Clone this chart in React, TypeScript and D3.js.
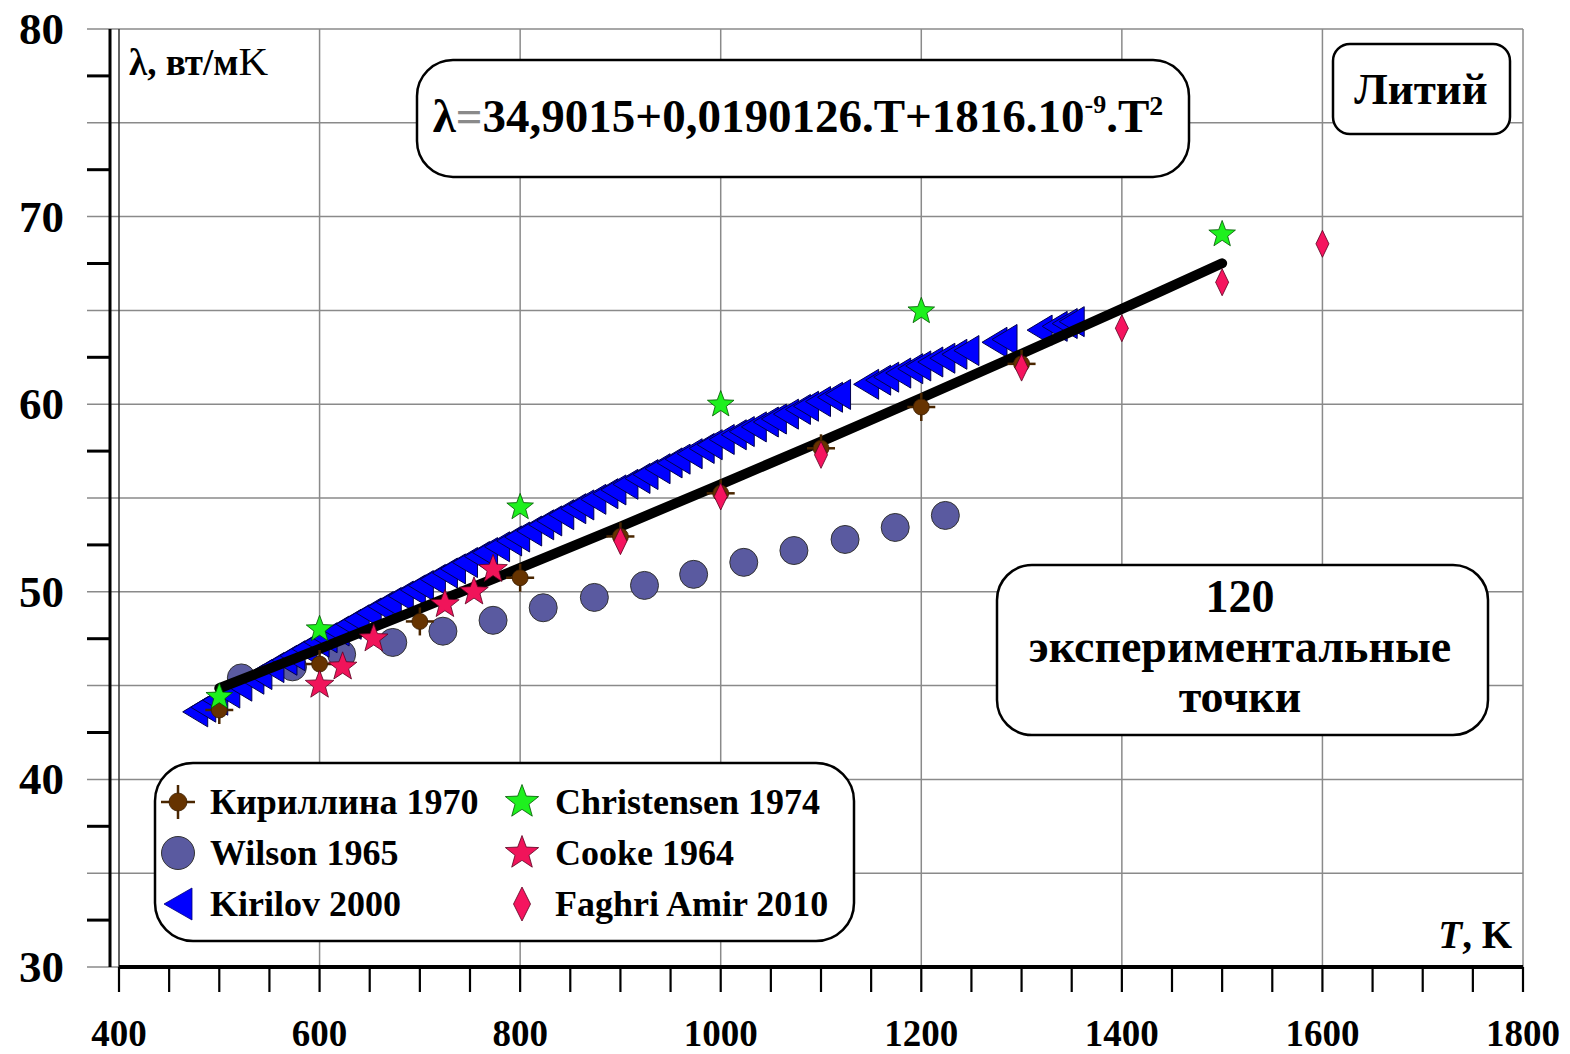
import React from 'react';
import * as d3 from 'd3';

const W = 1570;
const H = 1054;
const FONT = "'Liberation Serif', 'Times New Roman', serif";

// axis ticks
const xLabels = [400, 600, 800, 1000, 1200, 1400, 1600, 1800];
const xMinor = d3.range(400, 1801, 50);
const yLabels = [30, 40, 50, 60, 70, 80];
const yGrid = [30, 35, 40, 45, 50, 55, 60, 65, 70, 75, 80];
const yMinor = [32.5, 37.5, 42.5, 47.5, 52.5, 57.5, 62.5, 67.5, 72.5, 77.5];

// series: [T, lambda]
const kirillina: [number, number][] = [
  [500, 43.7], [600, 46.15], [700, 48.42], [800, 50.75], [900, 52.95],
  [1000, 55.25], [1100, 57.65], [1200, 59.85], [1300, 62.15],
];
const wilson: [number, number][] = [
  [522, 45.41], [573, 46.0], [622, 46.67], [673, 47.3], [723, 47.9],
  [773, 48.48], [823, 49.15], [874, 49.7], [924, 50.34], [973, 50.93],
  [1023, 51.57], [1073, 52.2], [1124, 52.79], [1174, 53.43], [1224, 54.07],
];
const christensen: [number, number][] = [
  [500, 44.4], [600, 48.0], [800, 54.5], [1000, 59.98], [1200, 64.95], [1500, 69.05],
];
const cooke: [number, number][] = [
  [600, 45.03], [623, 46.0], [654, 47.5], [725, 49.33], [754, 50.0], [773, 51.2],
];
const faghri: [number, number][] = [
  [900, 52.7], [1000, 55.08], [1100, 57.3], [1300, 61.95], [1400, 64.05],
  [1500, 66.5], [1600, 68.55],
];
const kirilov: [number, number][] = [
  [476, 43.6], [484, 43.85], [496, 44.22], [508, 44.6], [520, 44.97],
  [532, 45.34], [540, 45.59], [552, 45.96], [565, 46.35], [573, 46.59],
  [585, 46.95], [597, 47.31], [605, 47.55], [617, 47.91], [629, 48.27],
  [637, 48.51], [649, 48.87], [661, 49.21], [669, 49.43], [681, 49.77],
  [693, 50.1], [701, 50.33], [713, 50.66], [725, 51.0], [733, 51.22],
  [745, 51.56], [757, 51.88], [765, 52.09], [777, 52.4], [789, 52.71],
  [797, 52.92], [809, 53.24], [821, 53.57], [829, 53.78], [841, 54.11],
  [853, 54.43], [861, 54.63], [873, 54.93], [885, 55.23], [893, 55.43],
  [905, 55.73], [917, 56.04], [925, 56.25], [937, 56.56], [949, 56.87],
  [957, 57.07], [969, 57.36], [981, 57.64], [989, 57.84], [1001, 58.12],
  [1013, 58.37], [1021, 58.54], [1033, 58.79], [1045, 59.05], [1053, 59.21],
  [1065, 59.47], [1077, 59.72], [1085, 59.89], [1097, 60.14], [1109, 60.37],
  [1117, 60.52], [1145, 61.06], [1157, 61.28], [1165, 61.44], [1177, 61.66],
  [1189, 61.89], [1197, 62.04], [1209, 62.25], [1221, 62.45], [1233, 62.66],
  [1245, 62.86], [1273, 63.3], [1283, 63.45], [1318, 63.95], [1333, 64.15],
  [1343, 64.3], [1350, 64.4],
];

// fitted curve as drawn
const fitT = [500, 600, 700, 800, 900, 1000, 1100, 1200, 1300, 1400, 1500];
const fitLambda = [44.86, 46.96, 49.1, 51.27, 53.48, 55.73, 58.01, 60.33, 62.69, 65.08, 67.51];

const starPath = (R: number, k = 0.42) => {
  let p = '';
  for (let i = 0; i < 10; i++) {
    const a = -Math.PI / 2 + (i * Math.PI) / 5;
    const r = i % 2 === 0 ? R : R * k;
    p += (i ? 'L' : 'M') + (r * Math.cos(a)).toFixed(2) + ',' + (r * Math.sin(a)).toFixed(2);
  }
  return p + 'Z';
};
const diamondPath = (w: number, h: number) => `M0,${-h / 2}L${w / 2},0L0,${h / 2}L${-w / 2},0Z`;
const triPath = (w: number, h: number) => `M${-w / 2},0L${w / 2},${-h / 2}L${w / 2},${h / 2}Z`;

const BrownMark = ({ x, y, r = 8, arm = 14 }: any) => (
  <g transform={`translate(${x},${y})`}>
    <line x1={-arm} x2={arm} y1={0} y2={0} stroke="#4a2600" strokeWidth={2.5} />
    <line x1={0} x2={0} y1={-arm} y2={arm} stroke="#4a2600" strokeWidth={2.5} />
    <circle r={r} fill="#663300" stroke="#3a1d00" strokeWidth={0.8} />
  </g>
);

const App = () => {
  const x = d3.scaleLinear().domain([400, 1800]).range([119, 1523]);
  const y = d3.scaleLinear().domain([30, 80]).range([967, 29]);

  const fitLine = d3.line<number>()
    .x((d, i) => x(fitT[i]))
    .y(d => y(d))
    .curve(d3.curveCatmullRom);

  const gridColor = '#8a8a8a';

  return (
    <div style={{ position: 'absolute', left: 0, top: 0 }}>
      <svg width={W} height={H} style={{ display: 'block', background: '#fff' }} fontFamily={FONT}>
        {/* grid */}
        {yGrid.map(v => (
          <line key={'gy' + v} x1={87} x2={1523} y1={y(v)} y2={y(v)} stroke={gridColor} strokeWidth={1.5} />
        ))}
        {xLabels.map(v => (
          <line key={'gx' + v} x1={x(v)} x2={x(v)} y1={y(80)} y2={y(30)} stroke={v === 400 ? '#333' : gridColor} strokeWidth={1.5} />
        ))}

        {/* y axis */}
        <line x1={110} x2={110} y1={y(80)} y2={y(30)} stroke="#000" strokeWidth={3} />
        {yMinor.map(v => (
          <line key={'ym' + v} x1={87} x2={110} y1={y(v)} y2={y(v)} stroke="#000" strokeWidth={3} />
        ))}
        {yLabels.map(v => (
          <text key={'yl' + v} x={64} y={y(v) + 15} textAnchor="end" fontSize={45} fontWeight="bold">{v}</text>
        ))}

        {/* x axis */}
        <line x1={x(400)} x2={x(1800)} y1={y(30)} y2={y(30)} stroke="#000" strokeWidth={4} />
        {xMinor.map(v => (
          <line key={'xm' + v} x1={x(v)} x2={x(v)} y1={y(30)} y2={y(30) + 25} stroke="#000" strokeWidth={2.2} />
        ))}
        {xLabels.map(v => (
          <text key={'xl' + v} x={x(v)} y={1046} textAnchor="middle" fontSize={37} fontWeight="bold">{v}</text>
        ))}

        {/* axis titles */}
        <text x={129} y={75} fontSize={37} fontWeight="bold">λ, вт/м<tspan fontWeight="normal" fontSize={41}>K</tspan></text>
        <text x={1512} y={948} textAnchor="end" fontSize={39} fontWeight="bold">
          <tspan fontStyle="italic">T</tspan>, K
        </text>

        {/* equation box */}
        <rect x={417} y={60} width={772} height={117} rx={36} fill="#fff" stroke="#000" strokeWidth={2.5} />
        <text x={798} y={132} textAnchor="middle" fontSize={47} fontWeight="bold">
          λ<tspan fill="#8a8a8a">=</tspan>34,9015+0,0190126.T+1816.10<tspan dy={-19} fontSize={26}>-9</tspan>
          <tspan dy={19}>.T</tspan><tspan dy={-17} fontSize={28}>2</tspan>
        </text>

        {/* Литий box */}
        <rect x={1333} y={44} width={177} height={90} rx={17} fill="#fff" stroke="#000" strokeWidth={2.5} />
        <text x={1421} y={104} textAnchor="middle" fontSize={45} fontWeight="bold">Литий</text>

        {/* 120 box */}
        <rect x={997} y={565} width={491} height={170} rx={35} fill="#fff" stroke="#000" strokeWidth={2.5} />
        <text x={1240} y={612} textAnchor="middle" fontSize={46} fontWeight="bold">120</text>
        <text x={1240} y={662} textAnchor="middle" fontSize={46} fontWeight="bold">экспериментальные</text>
        <text x={1240} y={712} textAnchor="middle" fontSize={46} fontWeight="bold">точки</text>

        {/* data */}
        {wilson.map(([t, l], i) => (
          <circle key={'w' + i} cx={x(t)} cy={y(l)} r={14} fill="#5a5aa0" stroke="#333" strokeWidth={1} />
        ))}
        {kirilov.map(([t, l], i) => (
          <path key={'k' + i} d={triPath(25, 30)} transform={`translate(${x(t)},${y(l)})`} fill="#0000ff" stroke="#000050" strokeWidth={1} />
        ))}
        <path d={fitLine(fitLambda) || ''} fill="none" stroke="#000" strokeWidth={10} strokeLinecap="round" />
        {kirillina.map(([t, l], i) => (
          <BrownMark key={'b' + i} x={x(t)} y={y(l)} />
        ))}
        {cooke.map(([t, l], i) => (
          <path key={'c' + i} d={starPath(15)} transform={`translate(${x(t)},${y(l)})`} fill="#f0145a" stroke="#5a0020" strokeWidth={0.8} />
        ))}
        {faghri.map(([t, l], i) => (
          <path key={'f' + i} d={diamondPath(13, 27)} transform={`translate(${x(t)},${y(l)})`} fill="#f5145f" stroke="#5a0020" strokeWidth={0.8} />
        ))}
        {christensen.map(([t, l], i) => (
          <path key={'g' + i} d={starPath(14)} transform={`translate(${x(t)},${y(l)})`} fill="#1ef01e" stroke="#005500" strokeWidth={0.8} />
        ))}

        {/* legend */}
        <rect x={155} y={763} width={699} height={178} rx={38} fill="#fff" stroke="#000" strokeWidth={2.5} />
        <BrownMark x={178} y={802} r={9} arm={17} />
        <circle cx={178} cy={853} r={16.5} fill="#5a5aa0" stroke="#333" strokeWidth={1} />
        <path d={triPath(28, 32)} transform="translate(178,904)" fill="#0000ff" stroke="#00007a" strokeWidth={0.8} />
        <path d={starPath(17.5)} transform="translate(522,802)" fill="#1ef01e" stroke="#005500" strokeWidth={0.8} />
        <path d={starPath(17.5)} transform="translate(522,853)" fill="#f0145a" stroke="#5a0020" strokeWidth={0.8} />
        <path d={diamondPath(17, 34)} transform="translate(522,904)" fill="#f5145f" stroke="#5a0020" strokeWidth={0.8} />
        <g fontSize={36} fontWeight="bold">
          <text x={210} y={814}>Кириллина 1970</text>
          <text x={210} y={865}>Wilson 1965</text>
          <text x={210} y={916}>Kirilov 2000</text>
          <text x={555} y={814}>Christensen 1974</text>
          <text x={555} y={865}>Cooke 1964</text>
          <text x={555} y={916}>Faghri Amir 2010</text>
        </g>
      </svg>
    </div>
  );
};

export default App;
